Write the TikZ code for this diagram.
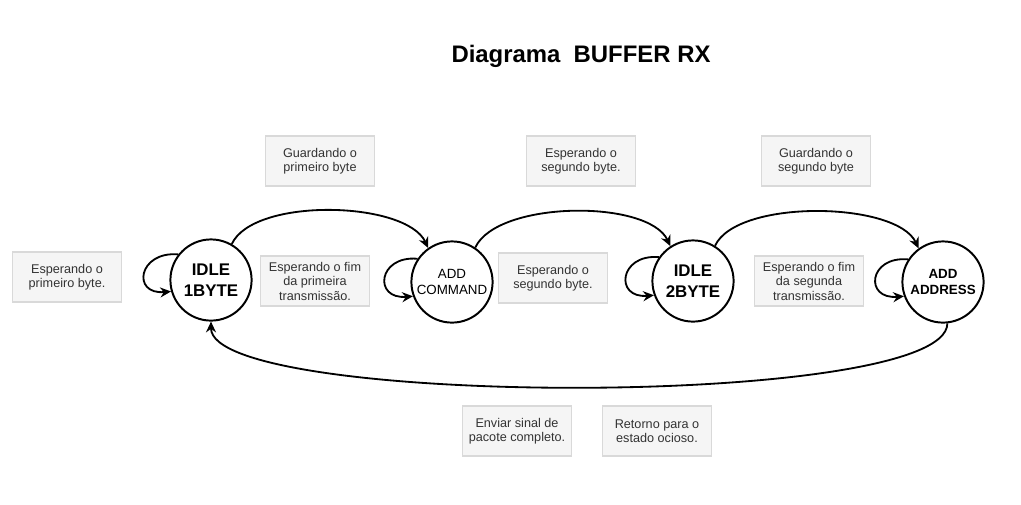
\documentclass[tikz,border=0pt]{standalone}
\usepackage{fontspec}
\setmainfont{Liberation Sans}
\usetikzlibrary{arrows.meta}
\definecolor{notefill}{HTML}{F5F5F5}
\definecolor{noteline}{HTML}{D9D9D9}
\definecolor{notetext}{HTML}{333333}

\begin{document}
\begin{tikzpicture}[->, >={Stealth[length=2.7mm,width=2.5mm,inset=0.9mm]}, line width=1.3pt]
  \tikzstyle{state}=[fill=white,draw=black,text=black,circle,minimum size=2.03cm,inner sep=0pt,align=center,line width=1.4pt]
  \tikzstyle{note}=[fill=notefill,draw=noteline,text=notetext,line width=0.9pt,minimum width=2.72cm,minimum height=1.25cm,inner sep=2pt,align=center,font=\fontsize{9}{10.3}\selectfont]

  \useasboundingbox (0,0) rectangle (25.525,-12.6);

  \node[font=\bfseries\fontsize{17}{20}\selectfont] (title) at (14.525,-1.4) {Diagrama~~BUFFER RX};

  \node[state,font=\bfseries\fontsize{12}{15}\selectfont]  (idle1) at (5.275,-7.0)   {IDLE\\1BYTE};
  \node[state,font=\fontsize{9.5}{11}\selectfont]          (cmd)   at (11.3,-7.05)   {ADD\\COMMAND};
  \node[state,font=\bfseries\fontsize{12}{15}\selectfont]  (idle2) at (17.325,-7.025) {IDLE\\2BYTE};
  \node[state,font=\bfseries\fontsize{9.5}{11}\selectfont] (addr)  at (23.575,-7.05) {ADD\\ADDRESS};

  \node[note] (n1) at (1.675,-6.925)  {Esperando o\\primeiro byte.};
  \node[note] (n2) at (8.0,-4.025)    {Guardando o\\primeiro byte};
  \node[note] (n3) at (7.875,-7.025)  {Esperando o fim\\da primeira\\transmissão.};
  \node[note] (n4) at (14.525,-4.025) {Esperando o\\segundo byte.};
  \node[note] (n5) at (13.825,-6.95)  {Esperando o\\segundo byte.};
  \node[note] (n6) at (20.4,-4.025)   {Guardando o\\segundo byte};
  \node[note] (n7) at (20.225,-7.025) {Esperando o fim\\da segunda\\transmissão.};
  \node[note] (n8) at (12.925,-10.775) {Enviar sinal de\\pacote completo.};
  \node[note] (n9) at (16.425,-10.775) {Retorno para o\\estado ocioso.};

  \path (idle1.142) edge[out=175,in=185,distance=1cm] (idle1.196);
  \path (cmd.146)   edge[out=175,in=185,distance=1cm] (cmd.200);
  \path (idle2.145) edge[out=175,in=185,distance=1cm] (idle2.200);
  \path (addr.147)  edge[out=175,in=185,distance=1cm] (addr.200);

  \path (idle1.60) edge[out=65,in=115,distance=1.3cm] (cmd.125);
  \path (cmd.56)   edge[out=65,in=115,distance=1.3cm] (idle2.123);
  \path (idle2.58) edge[out=65,in=115,distance=1.3cm] (addr.126);

  \path (addr.276) edge[out=-90,in=-90,distance=2.15cm] (idle1.270);

\end{tikzpicture}
\end{document}
